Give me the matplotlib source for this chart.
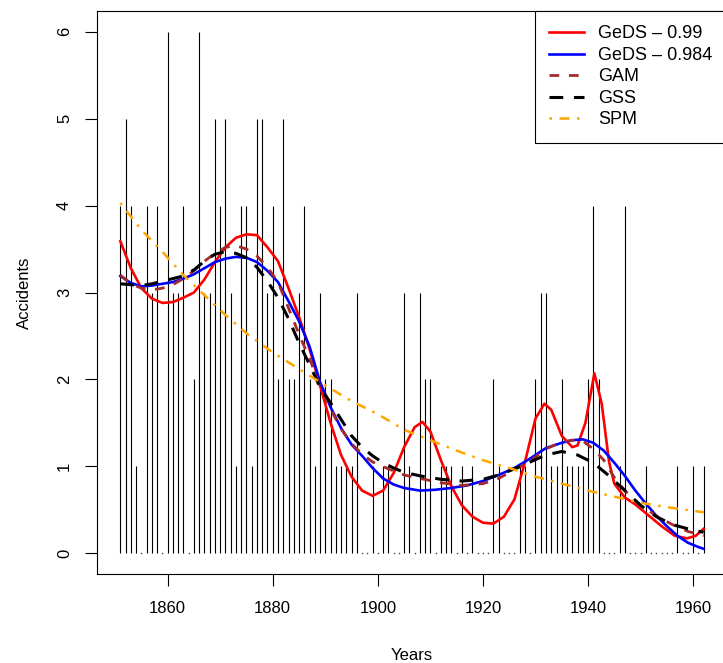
import numpy as np
import matplotlib
matplotlib.use("Agg")
import matplotlib.pyplot as plt

plt.rcParams['font.family'] = ['Liberation Sans', 'DejaVu Sans']

# British coal mining disasters, yearly counts 1851-1962
years = np.arange(1851, 1963)
accidents = [4, 5, 4, 1, 0, 4, 3, 4, 0, 6, 3, 3, 4, 0, 2, 6, 3, 3, 5, 4,
             5, 3, 1, 4, 4, 1, 5, 5, 3, 4, 2, 5, 2, 2, 3, 4, 2, 1, 3, 2,
             2, 1, 1, 1, 1, 3, 0, 0, 1, 0, 1, 1, 0, 0, 3, 1, 0, 3, 2, 2,
             0, 1, 1, 1, 0, 1, 0, 1, 0, 0, 0, 2, 1, 0, 0, 0, 1, 1, 0, 2,
             3, 3, 1, 1, 2, 1, 1, 1, 1, 2, 4, 2, 0, 0, 0, 1, 4, 0, 0, 0,
             1, 0, 0, 0, 0, 0, 1, 0, 0, 1, 0, 1]

# fitted curves
geds99_x = [1851, 1853, 1855, 1857, 1859, 1861, 1863, 1865, 1867, 1869, 1871, 1873,
            1875, 1877, 1879, 1881, 1883, 1885, 1887, 1889, 1891, 1893, 1895, 1897,
            1899, 1901, 1903, 1905, 1907, 1908.5, 1910, 1912, 1914, 1916, 1918, 1920,
            1922, 1924, 1926, 1928, 1930, 1931.7, 1933, 1935, 1937, 1938, 1939.5,
            1941.2, 1942.6, 1944, 1945, 1947, 1949, 1952, 1954, 1956.5, 1958.8,
            1960.5, 1962]
geds99_y = [3.59, 3.28, 3.05, 2.93, 2.88, 2.89, 2.94, 3.0, 3.15, 3.35, 3.52, 3.63,
            3.67, 3.66, 3.52, 3.36, 3.05, 2.72, 2.35, 1.93, 1.5, 1.13, 0.88, 0.72,
            0.66, 0.72, 0.92, 1.22, 1.45, 1.51, 1.4, 1.07, 0.77, 0.55, 0.42, 0.35,
            0.34, 0.42, 0.62, 1.05, 1.55, 1.72, 1.65, 1.35, 1.22, 1.24, 1.5,
            2.07, 1.72, 1.05, 0.8, 0.64, 0.56, 0.41, 0.31, 0.2, 0.17,
            0.2, 0.28]

geds984_x = [1851, 1853, 1855, 1857, 1859, 1861, 1863, 1865, 1867, 1869, 1871, 1873,
             1875, 1877, 1879, 1881, 1883, 1885, 1887, 1889, 1891, 1893, 1895, 1897,
             1899, 1901, 1903, 1905, 1908, 1911, 1914, 1917, 1920, 1923, 1926, 1929,
             1932, 1935, 1937, 1939, 1941, 1943, 1945, 1947, 1949, 1951, 1953, 1955,
             1957, 1959, 1961, 1962]
geds984_y = [3.19, 3.11, 3.07, 3.08, 3.1, 3.12, 3.16, 3.21, 3.28, 3.35, 3.39, 3.41,
             3.4, 3.35, 3.25, 3.12, 2.9, 2.67, 2.38, 1.97, 1.68, 1.44, 1.25, 1.12,
             0.98, 0.86, 0.79, 0.75, 0.72, 0.73, 0.75, 0.78, 0.83, 0.9, 0.98, 1.09,
             1.21, 1.27, 1.3, 1.31, 1.27, 1.18, 1.04, 0.89, 0.72, 0.57, 0.43, 0.31,
             0.2, 0.12, 0.07, 0.05]

gam_x = [1851, 1853, 1855, 1857, 1859, 1861, 1863, 1865, 1867, 1869, 1871, 1873,
         1875, 1877, 1879, 1881, 1883, 1885, 1887, 1889, 1891, 1893, 1895, 1897,
         1899, 1902, 1905, 1908, 1912, 1916, 1920, 1923, 1926, 1929, 1932, 1935,
         1937, 1939, 1941, 1943, 1945, 1947, 1950, 1953, 1956, 1959, 1962]
gam_y = [3.2, 3.1, 3.05, 3.03, 3.05, 3.09, 3.16, 3.25, 3.36, 3.45, 3.52, 3.54,
         3.5, 3.42, 3.29, 3.12, 2.82, 2.52, 2.24, 1.92, 1.66, 1.43, 1.26, 1.14,
         1.05, 0.97, 0.9, 0.86, 0.81, 0.78, 0.8, 0.86, 0.96, 1.06, 1.2, 1.28,
         1.3, 1.29, 1.2, 1.07, 0.87, 0.72, 0.55, 0.43, 0.33, 0.25, 0.2]

gss_x = [1851, 1853, 1855, 1857, 1859, 1861, 1863, 1865, 1867, 1869, 1871, 1873,
         1875, 1877, 1879, 1881, 1883, 1885, 1887, 1889, 1891, 1893, 1895, 1897,
         1899, 1901, 1903, 1905, 1908, 1912, 1916, 1920, 1923, 1926, 1929, 1932,
         1935, 1938, 1941, 1944, 1947, 1950, 1953, 1956, 1959, 1962]
gss_y = [3.1, 3.09, 3.08, 3.1, 3.13, 3.16, 3.19, 3.26, 3.36, 3.44, 3.47, 3.45,
         3.4, 3.29, 3.13, 2.94, 2.7, 2.42, 2.17, 1.91, 1.73, 1.54, 1.35, 1.22,
         1.12, 1.04, 0.98, 0.93, 0.89, 0.85, 0.83, 0.85, 0.9, 0.97, 1.05, 1.13,
         1.17, 1.13, 1.04, 0.89, 0.72, 0.55, 0.42, 0.33, 0.28, 0.24]

spm_x = [1851, 1855, 1859, 1863, 1867, 1871, 1875, 1880, 1885, 1890, 1895, 1900,
         1905, 1910, 1915, 1920, 1925, 1930, 1935, 1940, 1945, 1950, 1955, 1962]
spm_y = [4.03, 3.72, 3.47, 3.2, 2.97, 2.74, 2.53, 2.31, 2.12, 1.93, 1.75, 1.6,
         1.42, 1.3, 1.18, 1.07, 0.98, 0.88, 0.8, 0.72, 0.65, 0.58, 0.53, 0.47]

fig = plt.figure(figsize=(7.23, 6.63), dpi=100)
ax = fig.add_axes([97 / 723, 89 / 663, 630 / 723, 563 / 663])

ax.vlines(years, 0, accidents, color='black', linewidth=0.8)
zero = np.array(accidents) == 0
ax.plot(years[zero], np.zeros(zero.sum()), linestyle='none', marker='s',
        markersize=1.0, color='#444444', markeredgewidth=0)

ax.plot(geds99_x, geds99_y, color='red', linewidth=1.9, label='GeDS \u2013 0.99')
ax.plot(geds984_x, geds984_y, color='blue', linewidth=1.9, label='GeDS \u2013 0.984')
ax.plot(gam_x, gam_y, color='brown', linewidth=2.0, dashes=(3.5, 3.5), label='GAM')
ax.plot(gss_x, gss_y, color='black', linewidth=2.2, dashes=(4.5, 3.5), label='GSS')
ax.plot(spm_x, spm_y, color='orange', linewidth=1.8, dashes=(1, 3, 4, 3), label='SPM')

ax.set_xlim(1846.56, 1966.44)
ax.set_ylim(-0.24, 6.24)
ax.set_xticks([1860, 1880, 1900, 1920, 1940, 1960])
ax.set_yticks(range(7))
ax.tick_params(direction='out', length=8.5, width=0.8, labelsize=12, pad=11)
ax.tick_params(axis='y', pad=9.5)
for lbl in ax.get_yticklabels():
    lbl.set_rotation(90)
    lbl.set_va('center')
for s in ax.spines.values():
    s.set_linewidth(0.8)

ax.set_xlabel('Years', fontsize=12, labelpad=23)
ax.set_ylabel('Accidents', fontsize=12, labelpad=18)

leg = ax.legend(loc='upper right', borderaxespad=0, fancybox=False, framealpha=1,
                edgecolor='black', fontsize=13, handlelength=1.95, handletextpad=0.78,
                labelspacing=0.25, borderpad=0.8)
leg.get_frame().set_linewidth(0.8)

fig.savefig('out.png', dpi=100)
